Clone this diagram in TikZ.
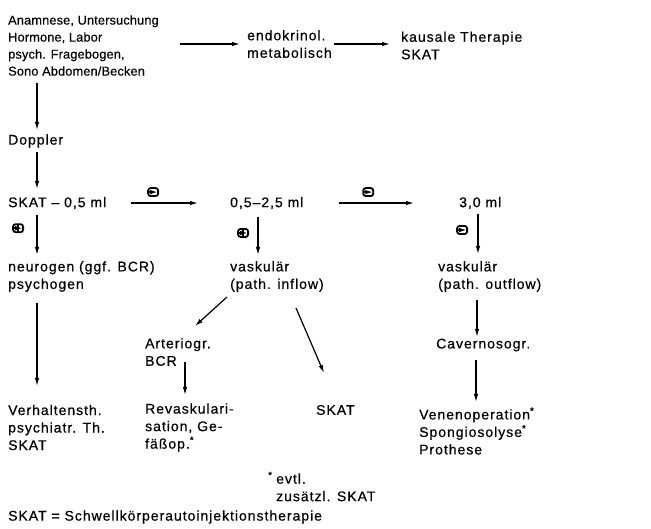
\documentclass[tikz,border=0pt]{standalone}
\usepackage{fontspec}
\usepackage{tikz}
\usetikzlibrary{arrows.meta,calc}
\setmainfont[LetterSpace=7,FakeBold=0.5]{Liberation Sans}
\newfontfamily\schmalfam[LetterSpace=1,FakeBold=0.3]{Liberation Sans}
\newcommand{\haupt}{\fontsize{14}{17.5}\selectfont}
\newcommand{\schmal}{\schmalfam\fontsize{12.8}{17}\selectfont}

\begin{document}
\begin{tikzpicture}[x=1pt,y=-1pt,
    txt/.style={anchor=west, align=left, inner sep=0pt, font=\haupt},
    pfeil/.style={-{Latex[length=8pt,width=4.5pt]}, line width=1.2pt},
    zeichen/.style={draw, fill=white, line width=1.8pt, rounded corners=2.5pt,
      minimum width=10pt, minimum height=8pt, inner sep=0pt},
    plusz/.style={zeichen, path picture={\draw[line width=1.5pt]
        (path picture bounding box.north) -- (path picture bounding box.south)
        (path picture bounding box.west) -- (path picture bounding box.east);}},
    minusz/.style={zeichen, path picture={\draw[line width=1.5pt]
        (path picture bounding box.west) -- (path picture bounding box.east);}}]
  \useasboundingbox (0,0) rectangle (651,529);

  % Abklaerung
  \node[txt, font=\schmal] (anam) at (8,45.5) {Anamnese, Untersuchung\\Hormone, Labor\\psych. Fragebogen,\\Sono Abdomen/Becken};
  \node[txt] (endo) at (247,44) {endokrinol.\\metabolisch};
  \node[txt] (kausal) at (401,45.5) {kausale Therapie\\SKAT};
  \node[txt] (doppler) at (8,141) {Doppler};

  % SKAT-Test
  \node[txt] (skat) at (8,203) {SKAT -- 0,5 ml};
  \node[txt] (mittel) at (230,203) {0,5--2,5 ml};
  \node[txt] (hoch) at (459,203) {3,0 ml};

  % Befunde
  \node[txt] (neuro) at (8,276.5) {neurogen (ggf. BCR)\\psychogen};
  \node[txt] (vaskin) at (230,276.5) {vaskulär\\(path. inflow)};
  \node[txt] (vaskout) at (438,276.5) {vaskulär\\(path. outflow)};
  \node[txt] (arterio) at (145,352) {Arteriogr.\\BCR};
  \node[txt] (caverno) at (436,345) {Cavernosogr.};

  % Therapie
  \node[txt] (verhalten) at (8,427.5) {Verhaltensth.\\psychiatr. Th.\\SKAT};
  \node[txt] (revask) at (145,427.5) {Revaskulari-\\sation, Ge-\\fäßop.\textsuperscript{*}};
  \node[txt] (skatb) at (316,410) {SKAT};
  \node[txt] (vene) at (419,431) {Venenoperation\textsuperscript{*}\\Spongiosolyse\textsuperscript{*}\\Prothese};
  \node[txt] (evtl) at (268,486.5) {\makebox[8pt][l]{\textsuperscript{*}}evtl.\\\hspace*{8pt}zusätzl. SKAT};
  \node[txt] (legende) at (8,517) {SKAT = Schwellkörperautoinjektionstherapie};

  % Pfeile
  \draw[pfeil] ($(anam.west)+(172,-1.5)$) -- ($(endo.west)+(-7,0)$);
  \draw[pfeil] ($(endo.west)+(87,0)$) -- ($(endo.west)+(143,0)$);
  \draw[pfeil] ($(anam.west)+(29,37.5)$) -- ($(doppler.west)+(29,-11)$);
  \draw[pfeil] ($(doppler.west)+(29,11)$) -- ($(skat.west)+(29,-14)$);
  \draw[pfeil] ($(skat.west)+(123,0)$) -- node[minusz, pos=0.33, above=6pt] (minus1) {} ($(mittel.west)+(-32,0)$);
  \draw[pfeil] ($(mittel.west)+(109,0)$) -- node[minusz, pos=0.39, above=6pt] (minus2) {} ($(hoch.west)+(-45,0)$);
  \draw[pfeil] ($(skat.west)+(29,12)$) -- node[plusz, pos=0.33, left=13pt] (plus1) {} ($(neuro.west)+(29,-21.5)$);
  \draw[pfeil] ($(neuro.west)+(29,26.5)$) -- ($(verhalten.west)+(29,-41.5)$);
  \draw[pfeil] ($(mittel.west)+(28,14)$) -- node[plusz, pos=0.42, left=9pt] (plus2) {} ($(vaskin.west)+(28,-21.5)$);
  \draw[pfeil] ($(hoch.west)+(19,11)$) -- node[minusz, pos=0.4, left=10pt] (minus3) {} ($(vaskout.west)+(40,-22.5)$);
  \draw[pfeil] ($(vaskin.west)+(-3,20.5)$) -- ($(arterio.west)+(50,-26)$);
  \draw[pfeil] ($(vaskin.west)+(66,31.5)$) -- ($(skatb.west)+(8,-37)$);
  \draw[pfeil] ($(arterio.west)+(40,10)$) -- ($(revask.west)+(40,-32.5)$);
  \draw[pfeil] ($(vaskout.west)+(39,23.5)$) -- ($(caverno.west)+(41,-8)$);
  \draw[pfeil] ($(caverno.west)+(40,15)$) -- ($(vene.west)+(57,-29)$);
\end{tikzpicture}
\end{document}
